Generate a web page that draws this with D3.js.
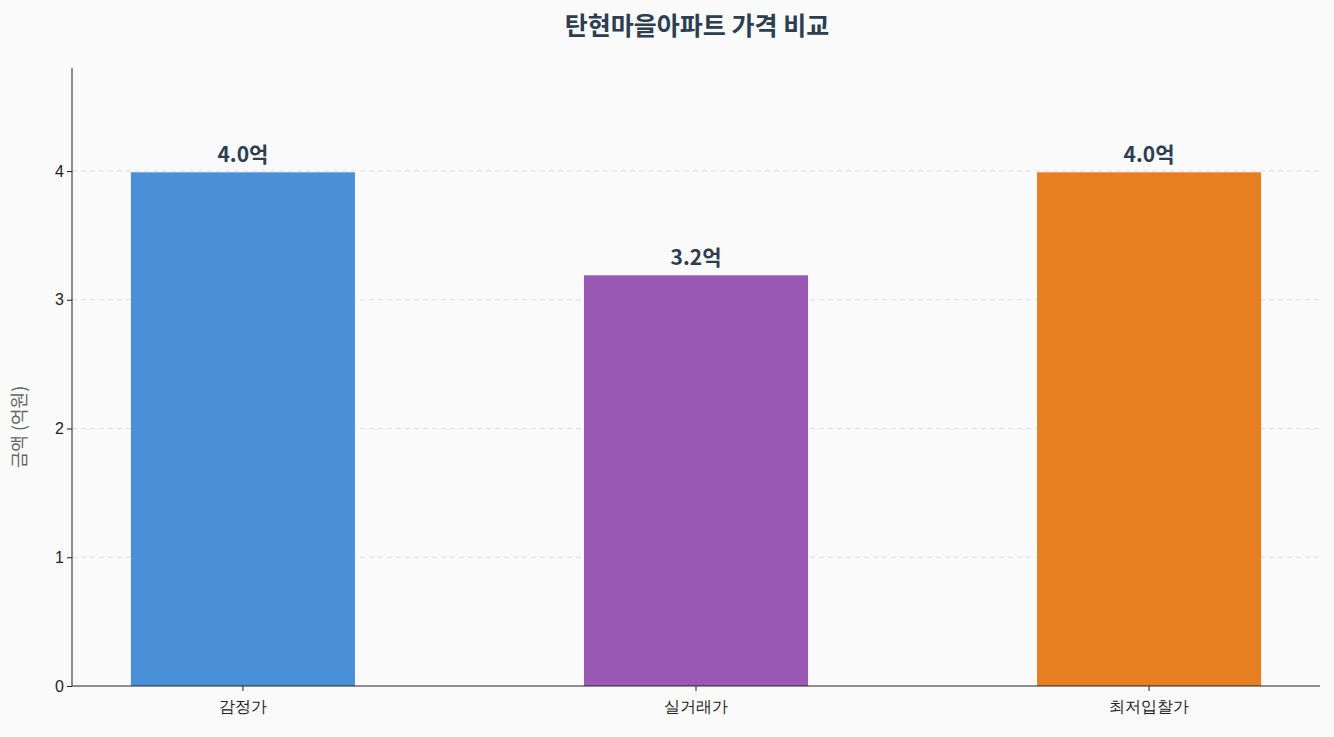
<!DOCTYPE html>
<html><head><meta charset="utf-8">
<script src="https://cdn.jsdelivr.net/npm/d3@7"></script>
<style>body{margin:0;background:#fafafa;font-family:"Noto Sans CJK KR","Noto Sans",sans-serif}</style>
</head><body><svg id="c" width="1334" height="737"></svg>
<script>
const categories = ["감정가","실거래가","최저입찰가"];
const values = [3.99, 3.19, 3.99];
const colors = ["#4a90d9","#9b59b6","#e67e22"];
const yTicks = [0,1,2,3,4];

const svg = d3.select("#c");
const L=72,R=1320,T=68,B=686;
svg.append("rect").attr("width",1334).attr("height",737).attr("fill","#fafafa");
const x = d3.scaleBand().domain(categories).range([L,R]).paddingInner(0.5055).paddingOuter(0.13);
const y = d3.scaleLinear().domain([0,4.8]).range([B,T]);

svg.append("g").selectAll("line").data(yTicks.slice(1)).join("line")
 .attr("x1",L).attr("x2",R).attr("y1",d=>y(d)).attr("y2",d=>y(d))
 .attr("stroke","#dddddd").attr("stroke-dasharray","5,4");

svg.append("g").selectAll("rect").data(values).join("rect")
 .attr("x",(d,i)=>x(categories[i])).attr("width",x.bandwidth())
 .attr("y",d=>y(d)).attr("height",d=>B-y(d)).attr("fill",(d,i)=>colors[i]);

svg.append("g").selectAll("text").data(values).join("text")
 .attr("x",(d,i)=>x(categories[i])+x.bandwidth()/2).attr("y",d=>y(d)-10)
 .attr("text-anchor","middle").attr("font-size",21).attr("font-weight","bold").attr("fill","#2c3e50")
 .text(d=>d.toFixed(1)+"억");

const ya = svg.append("g").attr("transform",`translate(${L},0)`).call(d3.axisLeft(y).tickValues(yTicks).tickSize(5).tickFormat(d3.format("d")));
const xa = svg.append("g").attr("transform",`translate(0,${B})`).call(d3.axisBottom(x).tickSize(5));
[ya,xa].forEach(a=>{a.selectAll("text").attr("font-size",16).attr("fill","#222").style("font-family","inherit");a.selectAll("line,path").attr("stroke","#222");});
ya.select(".domain").attr("d",`M0,${T}V${B}`);
xa.select(".domain").attr("d",`M${L},0H${R}`);
xa.selectAll("text").attr("dy","1.1em");

svg.append("text").attr("x",697).attr("y",35).attr("text-anchor","middle").attr("font-size",25)
 .attr("font-weight","bold").attr("fill","#2c3e50").text("탄현마을아파트 가격 비교");
svg.append("text").attr("transform",`translate(26,${(T+B)/2+50}) rotate(-90)`).attr("text-anchor","middle")
 .attr("font-size",18).attr("fill","#666").text("금액 (억원)");
</script></body></html>
